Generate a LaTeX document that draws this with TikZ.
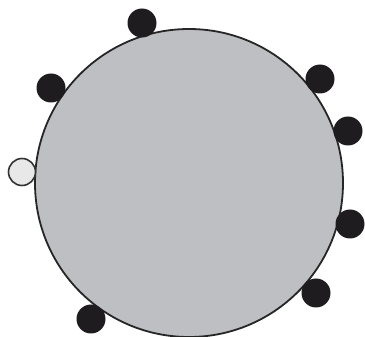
\documentclass[tikz,border=0pt]{standalone}
\usepackage{tikz}
\definecolor{cellgray}{RGB}{190,191,195}
\definecolor{dotdark}{RGB}{30,28,30}
\definecolor{dotlight}{RGB}{232,232,232}
\tikzset{
  cell/.style={circle, draw=black!85, line width=1.8pt, fill=cellgray, minimum size=308pt, inner sep=0pt},
  darkdot/.style={circle, fill=dotdark, minimum size=29pt, inner sep=0pt},
  lightdot/.style={circle, draw=black!80, line width=1.6pt, fill=dotlight, minimum size=27pt, inner sep=0pt}
}

\begin{document}
\begin{tikzpicture}[x=1pt, y=-1pt]
        % Frame of the picture
        \useasboundingbox (0, 0) rectangle (365, 337);
        \clip (0, 0) rectangle (365, 337);

        % Large gray cell
        \node[cell] (cell) at (189, 183) {};

        % Black dots on the rim
        \node[darkdot] (d1) at (142, 23) {};
        \node[darkdot] (d2) at (51, 88) {};
        \node[darkdot] (d3) at (320, 79) {};
        \node[darkdot] (d4) at (348, 131) {};
        \node[darkdot] (d5) at (350, 224) {};
        \node[darkdot] (d6) at (316, 293) {};
        \node[darkdot] (d7) at (91, 319) {};

        % Light dot on the left
        \node[lightdot] (w1) at (22, 172) {};
    \end{tikzpicture}
\end{document}
